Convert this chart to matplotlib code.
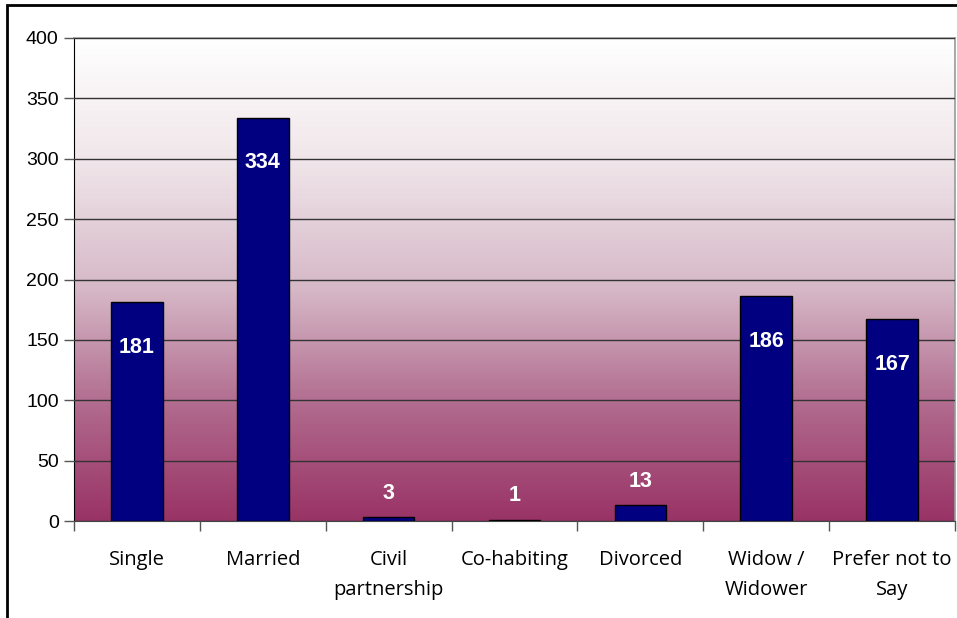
import matplotlib
matplotlib.use("Agg")
import matplotlib.pyplot as plt
import numpy as np
from matplotlib.colors import LinearSegmentedColormap
from matplotlib.patches import Rectangle
import matplotlib.transforms as mtransforms

categories = ["Single", "Married", "Civil\npartnership", "Co-habiting", "Divorced", "Widow /\nWidower", "Prefer not to\nSay"]
values = [181, 334, 3, 1, 13, 186, 167]
yticks = [0, 50, 100, 150, 200, 250, 300, 350, 400]

fig = plt.figure(figsize=(9.57, 6.18), dpi=100)
fig.patch.set_facecolor("white")
ax = fig.add_axes([74/957, 1-521/618, (955-74)/957, (521-38)/618])

# gradient background
stops = [(0.0, "#ffffff"), (0.25, "#f0e6ea"), (0.52, "#d6b8c7"), (0.77, "#b0688c"), (1.0, "#993366")]
cmap = LinearSegmentedColormap.from_list("bg", stops)
grad = np.linspace(0, 1, 256).reshape(-1, 1)
ax.imshow(grad, aspect="auto", cmap=cmap, extent=[-0.5, len(categories)-0.5, 0, 400],
          zorder=0, origin="upper")

x = np.arange(len(categories))
ax.bar(x, values, width=0.41, color="#000080", edgecolor="black", linewidth=1.0, zorder=3)

ax.set_xlim(-0.5, len(categories)-0.5)
ax.set_ylim(0, 400)
ax.set_yticks(yticks)
ax.set_yticklabels([str(t) for t in yticks], fontfamily="Liberation Sans", fontsize=14)
ax.yaxis.grid(True, color="#333333", linewidth=1.0, zorder=1)
ax.set_axisbelow(False)
for gl in ax.get_ygridlines():
    gl.set_zorder(1)

ax.set_xticks(x)
ax.set_xticklabels(categories, fontfamily="Open Sans", fontsize=14.5, linespacing=1.65)
ax.tick_params(axis="x", length=0, pad=21)
ax.set_xticks(np.arange(-0.5, len(categories)), minor=True)
ax.tick_params(axis="x", which="minor", length=7, color="#555555", width=1)
ax.tick_params(axis="y", length=7, color="#555555", width=1, pad=4)

for s in ["top", "right"]:
    ax.spines[s].set_color("#999999")
    ax.spines[s].set_linewidth(1.2)
ax.spines["left"].set_color("black")
ax.spines["bottom"].set_color("#444444")

for xi, v in zip(x, values):
    if v > 50:
        off = mtransforms.offset_copy(ax.transData, fig=fig, x=0, y=-45/100*72, units="points")
    else:
        off = mtransforms.offset_copy(ax.transData, fig=fig, x=0, y=24/100*72, units="points")
    ax.text(xi, v, str(v), transform=off, ha="center", va="center", color="white",
            fontfamily="Liberation Sans", fontweight="bold", fontsize=15.5, zorder=5)

# figure border
fig.patches.append(Rectangle((7/957, -0.1), 2, 1.1 - 5/618, transform=fig.transFigure,
                             fill=False, edgecolor="black", linewidth=2, zorder=10))

fig.savefig("out.png", dpi=100)
